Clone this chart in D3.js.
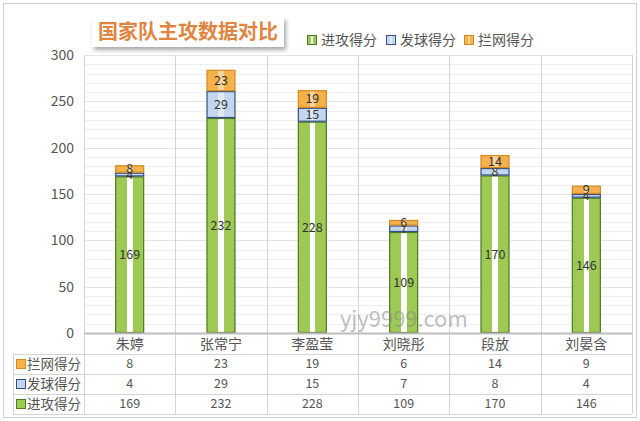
<!DOCTYPE html>
<html>
<head>
<meta charset="utf-8">
<script src="https://cdn.jsdelivr.net/npm/d3@7"></script>
<style>
  body { margin: 0; background: #fff; }
  text { font-family: "Noto Sans CJK SC", "Noto Sans", sans-serif; }
</style>
</head>
<body>
<svg id="chart" width="640" height="421"></svg>
<script>
// data
const players = ["朱婷", "张常宁", "李盈莹", "刘晓彤", "段放", "刘晏含"];
const attack = [169, 232, 228, 109, 170, 146];
const serve = [4, 29, 15, 7, 8, 4];
const block = [8, 23, 19, 6, 14, 9];
const seriesNames = ["进攻得分", "发球得分", "拦网得分"];
const yTicks = [0, 50, 100, 150, 200, 250, 300];

const width = 640, height = 421;
const margin = {left: 84, right: 8, top: 55, bottom: 88};
const plotRight = width - margin.right;
const plotBottom = 333;

const svg = d3.select("#chart");

// gradients for bars
const defs = svg.append("defs");
function stripe(id, edge, mid) {
  const g = defs.append("linearGradient").attr("id", id)
    .attr("x1", "0%").attr("x2", "100%").attr("y1", "0%").attr("y2", "0%");
  [[0, edge], [0.4, edge], [0.41, mid], [0.6, mid], [0.61, edge], [1, edge]]
    .forEach(s => g.append("stop").attr("offset", s[0]).attr("stop-color", s[1]));
}
stripe("gGreen", "#9dc954", "#ffffff");
stripe("gBlue", "#c3d6ee", "#dfe9f6");
stripe("gOrange", "#f5b14c", "#f9d49c");

const shadow = defs.append("filter").attr("id", "shadow")
  .attr("x", "-10%").attr("y", "-20%").attr("width", "130%").attr("height", "160%");
shadow.append("feDropShadow").attr("dx", 2).attr("dy", 3).attr("stdDeviation", 2)
  .attr("flood-color", "#000").attr("flood-opacity", 0.35);

const colors = [
  {fill: "url(#gGreen)", stroke: "#4e7a22", key: "#9dc954"},
  {fill: "url(#gBlue)", stroke: "#2f4f86", key: "#c3d6ee"},
  {fill: "url(#gOrange)", stroke: "#d58a1e", key: "#f5b14c"}
];

// outer frame
svg.append("rect").attr("x", 3.5).attr("y", 3.5).attr("width", 633).attr("height", 414)
  .attr("fill", "#fff").attr("stroke", "#d0d0d0");

const x = d3.scaleBand().domain(players).range([margin.left, plotRight]).paddingInner(0).paddingOuter(0);
const y = d3.scaleLinear().domain([0, 300]).range([plotBottom, margin.top]);

// minor grid
svg.append("g").selectAll("line")
  .data(d3.range(0, 301, 10))
  .join("line")
    .attr("x1", margin.left).attr("x2", plotRight)
    .attr("y1", d => Math.round(y(d)) + 0.5).attr("y2", d => Math.round(y(d)) + 0.5)
    .attr("stroke", d => d % 50 === 0 ? "#e3e3e3" : "#eeeeee")
    .attr("stroke-width", 1);

// vertical band separators
svg.append("g").selectAll("line")
  .data(players.map(p => x(p)).concat([plotRight]))
  .join("line")
    .attr("x1", d => Math.round(d) + 0.5).attr("x2", d => Math.round(d) + 0.5)
    .attr("y1", margin.top).attr("y2", 414)
    .attr("stroke", "#d4d4d4");

// y axis labels
svg.append("g").selectAll("text")
  .data(yTicks)
  .join("text")
    .attr("x", 74).attr("y", d => y(d))
    .attr("dy", "0.35em")
    .attr("text-anchor", "end")
    .attr("font-size", 14)
    .attr("fill", "#555")
    .text(d => d);

// stacked bars
const rows = players.map((p, i) => ({player: p, attack: attack[i], serve: serve[i], block: block[i]}));
const stack = d3.stack().keys(["attack", "serve", "block"])(rows);
const barW = 29;

const layer = svg.append("g").selectAll("g")
  .data(stack)
  .join("g");

layer.selectAll("rect")
  .data((s, si) => s.map(d => ({d, si})))
  .join("rect")
    .attr("x", o => x(o.d.data.player) + x.bandwidth() / 2 - barW / 2 + 0.5)
    .attr("y", o => y(o.d[1]) + 0.5)
    .attr("width", barW - 1)
    .attr("height", o => Math.max(0, y(o.d[0]) - y(o.d[1]) - 1))
    .attr("fill", o => colors[o.si].fill)
    .attr("stroke", o => colors[o.si].stroke)
    .attr("stroke-width", 1.2);

// data labels
layer.selectAll("text")
  .data(s => s)
  .join("text")
    .attr("x", d => x(d.data.player) + x.bandwidth() / 2)
    .attr("y", d => (y(d[0]) + y(d[1])) / 2)
    .attr("dy", "0.35em")
    .attr("text-anchor", "middle")
    .attr("font-size", 12.5)
    .attr("fill", "#333")
    .text(d => d[1] - d[0]);

// axis base line
svg.append("line").attr("x1", margin.left).attr("x2", plotRight)
  .attr("y1", plotBottom + 0.5).attr("y2", plotBottom + 0.5)
  .attr("stroke", "#bdbdbd").attr("stroke-width", 2);

// data table
const tableLeft = 13;
const rowY = [333, 354, 374, 394, 414];
const tableRows = [
  {name: seriesNames[2], vals: block, c: 2},
  {name: seriesNames[1], vals: serve, c: 1},
  {name: seriesNames[0], vals: attack, c: 0}
];

svg.append("g").selectAll("line")
  .data(rowY.slice(1))
  .join("line")
    .attr("x1", tableLeft).attr("x2", plotRight)
    .attr("y1", d => d + 0.5).attr("y2", d => d + 0.5)
    .attr("stroke", "#d4d4d4");
svg.append("line").attr("x1", tableLeft + 0.5).attr("x2", tableLeft + 0.5)
  .attr("y1", rowY[1]).attr("y2", rowY[4]).attr("stroke", "#d4d4d4");

svg.append("g").selectAll("text")
  .data(players)
  .join("text")
    .attr("x", d => x(d) + x.bandwidth() / 2)
    .attr("y", (rowY[0] + rowY[1]) / 2 + 1)
    .attr("dy", "0.35em")
    .attr("text-anchor", "middle")
    .attr("font-size", 14)
    .attr("fill", "#555")
    .text(d => d);

const tr = svg.append("g").selectAll("g")
  .data(tableRows)
  .join("g")
    .attr("transform", (d, i) => `translate(0,${(rowY[i + 1] + rowY[i + 2]) / 2})`);

tr.append("rect")
  .attr("x", 16.5).attr("y", -4.5).attr("width", 9).attr("height", 9)
  .attr("fill", d => colors[d.c].key)
  .attr("stroke", d => colors[d.c].stroke);
tr.append("text")
  .attr("x", 27).attr("dy", "0.35em")
  .attr("font-size", 13.5).attr("fill", "#555")
  .text(d => d.name);
tr.selectAll("text.v")
  .data(d => d.vals.map((v, i) => ({v, p: players[i]})))
  .join("text")
    .attr("class", "v")
    .attr("x", o => x(o.p) + x.bandwidth() / 2)
    .attr("dy", "0.35em")
    .attr("text-anchor", "middle")
    .attr("font-size", 12.5)
    .attr("fill", "#555")
    .text(o => o.v);

// title box
svg.append("rect").attr("x", 92).attr("y", 17).attr("width", 192).attr("height", 30)
  .attr("fill", "#fff").attr("filter", "url(#shadow)");
svg.append("text").attr("x", 188).attr("y", 32).attr("dy", "0.35em")
  .attr("text-anchor", "middle").attr("font-size", 20).attr("font-weight", "bold")
  .attr("fill", "#e0853f").text("国家队主攻数据对比");

// legend
const legX = [307, 386, 464];
const leg = svg.append("g").selectAll("g")
  .data(seriesNames)
  .join("g")
    .attr("transform", (d, i) => `translate(${legX[i]},40)`);
leg.append("rect")
  .attr("x", 0.5).attr("y", -4.5).attr("width", 9).attr("height", 9)
  .attr("fill", (d, i) => colors[i].fill)
  .attr("stroke", (d, i) => colors[i].stroke);
leg.append("text")
  .attr("x", 14).attr("dy", "0.35em")
  .attr("font-size", 14).attr("fill", "#555")
  .text(d => d);

// watermark
svg.append("text").attr("x", 340).attr("y", 327)
  .attr("font-family", "Liberation Sans, Arial, sans-serif")
  .attr("font-size", 22).attr("fill", "#888").attr("fill-opacity", 0.55)
  .text("yjy9999.com");
</script>
</body>
</html>
